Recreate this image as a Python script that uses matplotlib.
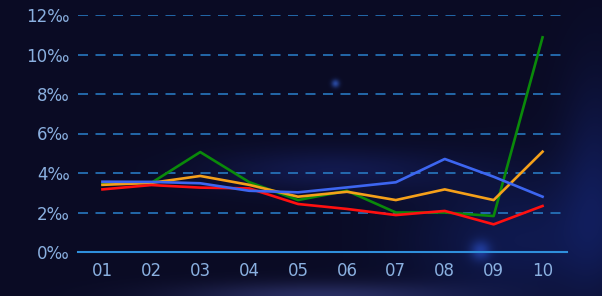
import numpy as np
import matplotlib
matplotlib.use("Agg")
import matplotlib.pyplot as plt

months = ["01", "02", "03", "04", "05", "06", "07", "08", "09", "10"]
green_vals = [3.49, 3.5, 5.06, 3.54, 2.63, 3.1, 2.0, 2.0, 1.82, 10.87]
orange_vals = [3.4, 3.5, 3.85, 3.4, 2.8, 3.05, 2.63, 3.17, 2.63, 5.08]
blue_vals = [3.56, 3.55, 3.48, 3.1, 3.02, 3.27, 3.53, 4.71, 3.81, 2.8]
red_vals = [3.17, 3.39, 3.26, 3.22, 2.43, 2.18, 1.87, 2.08, 1.4, 2.33]
y_ticks = [0, 2, 4, 6, 8, 10, 12]

plt.rcParams["font.family"] = ["DejaVu Sans"]

W, H = 602, 296
fig = plt.figure(figsize=(W / 100, H / 100), dpi=100)

# background
bg = fig.add_axes([0, 0, 1, 1])
yy, xx = np.mgrid[0:H, 0:W]
base = np.array([10, 11, 36]) / 255.0
img = np.ones((H, W, 3)) * base
def blob(cx, cy, rx, ry, col, amp):
    g = np.exp(-(((xx - cx) / rx) ** 2 + ((yy - cy) / ry) ** 2))
    return g[..., None] * (np.array(col) / 255.0) * amp
img += blob(330, 170, 120, 22, [8, 14, 40], 1.0)
img += blob(520, 240, 110, 70, [5, 14, 42], 1.0)
img += blob(595, 180, 35, 110, [5, 12, 36], 1.0)
img += blob(320, 296, 140, 14, [30, 34, 60], 1.0)
img += blob(480, 250, 10, 10, [20, 40, 90], 0.9)
img += blob(335, 83, 4, 4, [30, 60, 120], 1.0)
img = np.clip(img, 0, 1)
bg.imshow(img, extent=[0, W, H, 0], aspect="auto")
bg.axis("off")

ax = fig.add_axes([78 / W, 1 - 252 / H, (567 - 78) / W, (252 - 15) / H])
ax.patch.set_alpha(0)
x = np.arange(len(months))
lw = 1.9
ax.plot(x, green_vals, color="#0a8a0a", lw=lw, zorder=3)
ax.plot(x, orange_vals, color="#f5a01a", lw=lw, zorder=4)
ax.plot(x, red_vals, color="#ff1010", lw=lw, zorder=5)
ax.plot(x, blue_vals, color="#3d66f0", lw=lw, zorder=6)

ax.set_xlim(-0.5, len(months) - 0.5)
ax.set_ylim(0, 12)
ax.set_yticks(y_ticks)
ax.set_yticklabels([f"{v}‰" for v in y_ticks])
ax.set_xticks(x)
ax.set_xticklabels(months)
for s in ["top", "right", "left"]:
    ax.spines[s].set_visible(False)
ax.spines["bottom"].set_color("#2f8fdc")
ax.spines["bottom"].set_linewidth(1.5)
ax.tick_params(length=0, colors="#8ab0e0", labelsize=12)
ax.tick_params(axis="x", pad=7)
ax.tick_params(axis="y", pad=6)
for v in y_ticks[1:]:
    ax.axhline(v, color="#2878c0", lw=1.2, ls=(0, (6, 4.5)), zorder=1)

fig.savefig("out.png", dpi=100)
